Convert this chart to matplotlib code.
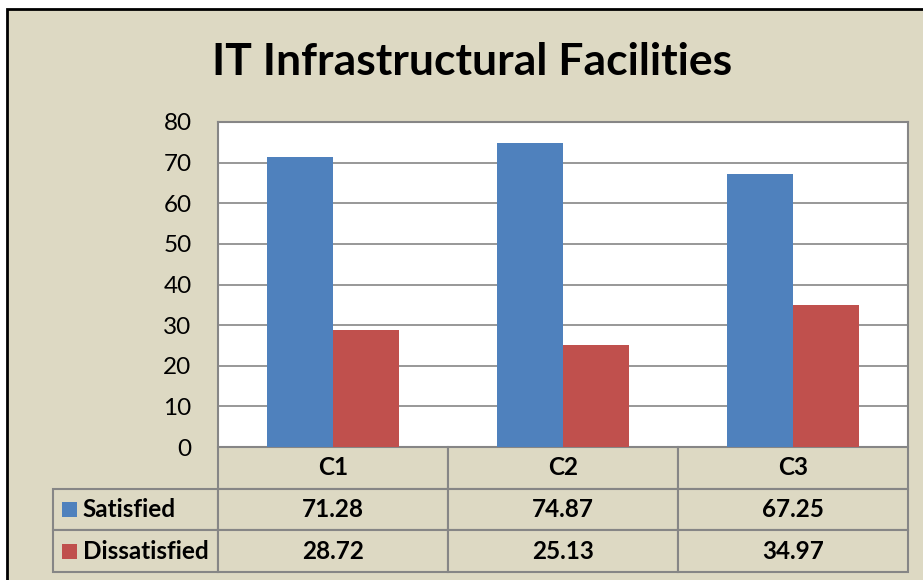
import matplotlib.pyplot as plt
from matplotlib.patches import Rectangle
import numpy as np

plt.rcParams['font.family'] = ['Lato', 'DejaVu Sans']

categories = ['C1', 'C2', 'C3']
satisfied = [71.28, 74.87, 67.25]
dissatisfied = [28.72, 25.13, 34.97]
series_names = ['Satisfied', 'Dissatisfied']
yticks = [0, 10, 20, 30, 40, 50, 60, 70, 80]

blue = '#4F81BD'
red = '#C0504D'
beige = '#DDD9C3'
grey = '#868686'

fig = plt.figure(figsize=(9.23, 5.8), dpi=100, facecolor='white')

# beige chart area with black border on the top/left
fig.patches.append(Rectangle((7 / 923, -0.1), 1.2, 1.1 - 9 / 580,
                             transform=fig.transFigure, facecolor=beige,
                             edgecolor='black', lw=2, zorder=-5))

ax = fig.add_axes([218 / 923, 1 - 447 / 580, 690 / 923, 325 / 580])
ax.set_facecolor('white')

x = np.arange(len(categories))
w = 0.287
ax.bar(x - w / 2, satisfied, w, color=blue, zorder=3)
ax.bar(x + w / 2, dissatisfied, w, color=red, zorder=3)

ax.set_xlim(-0.5, len(categories) - 0.5)
ax.set_ylim(0, 80)
ax.set_yticks(yticks)
ax.set_xticks([])
ax.tick_params(axis='y', length=0, pad=19, labelsize=17.5)
ax.yaxis.grid(True, color=grey, lw=1.2, zorder=0)
for s in ['top', 'left', 'right']:
    ax.spines[s].set_color(grey)
    ax.spines[s].set_linewidth(1.5)
ax.spines['bottom'].set_visible(False)

# data table: header row + one row per series, first column holds series names
rows = [[''] + categories]
for name, vals in zip(series_names, [satisfied, dissatisfied]):
    rows.append([name] + [f'{v:.2f}' for v in vals])

tab = ax.table(cellText=rows, cellLoc='center',
               colWidths=[165 / 855, 230 / 855, 230 / 855, 230 / 855],
               bbox=[-165 / 690, -125 / 325, 855 / 690, 125 / 325])
tab.auto_set_font_size(False)
for (r, c), cell in tab.get_celld().items():
    cell.set_facecolor(beige)
    cell.set_edgecolor(grey)
    cell.set_linewidth(1.5)
    cell.get_text().set_fontsize(17.5)
    cell.get_text().set_fontweight('bold')
    if c == 0:
        cell._loc = 'left'
        cell.get_text().set_ha('left')
        cell.PAD = 0.18
        if r == 0:
            cell.visible_edges = 'open'

# legend keys in the row label cells
for i, col in enumerate([blue, red]):
    fig.patches.append(Rectangle((62 / 923, 1 - (517 + 42 * i) / 580), 15 / 923, 15 / 580,
                                 transform=fig.transFigure, facecolor=col,
                                 edgecolor='none', zorder=5))

fig.text(472 / 923, 1 - 62 / 580, 'IT Infrastructural Facilities',
         ha='center', va='center', fontsize=32, fontweight='bold')

fig.savefig('out.png', dpi=100, facecolor=fig.get_facecolor())
